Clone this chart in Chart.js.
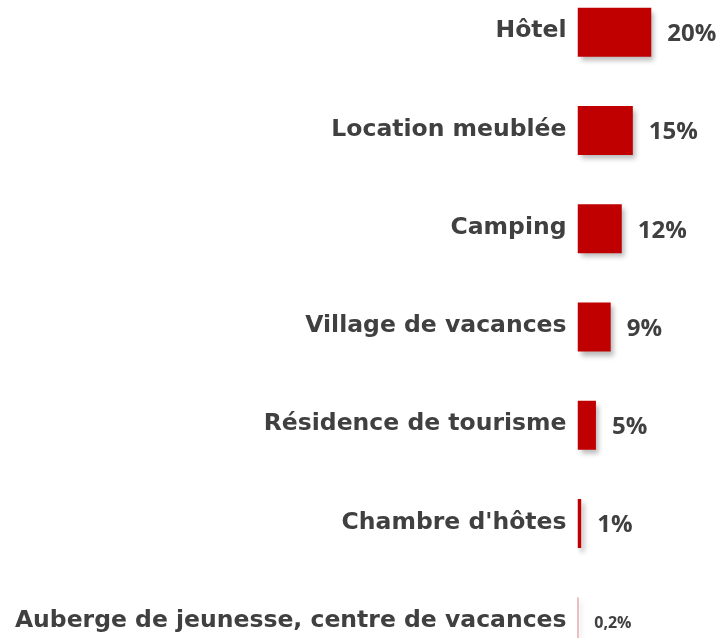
<!DOCTYPE html>
<html>
<head>
<meta charset="utf-8">
<script src="https://cdn.jsdelivr.net/npm/chart.js@4"></script>
<style>
  html, body { margin: 0; padding: 0; background: #fff; overflow: hidden; }
  #wrap { position: absolute; left: 0; top: -42px; width: 721px; height: 738px; }
</style>
</head>
<body>
<div id="wrap"><canvas id="hebChart"></canvas></div>
<script>
    // Hébergements (part en %)
    const categories = [
        'Hôtel',
        'Location meublée',
        'Camping',
        'Village de vacances',
        'Résidence de tourisme',
        "Chambre d'hôtes",
        'Auberge de jeunesse, centre de vacances'
    ];
    const values = [20, 15, 12, 9, 5, 1, 0.2];

    const fmt = v => String(v).replace('.', ',') + '%';

    // ombre portée sous les barres
    const shadowPlugin = {
        id: 'barShadow',
        beforeDatasetDraw(chart) {
            const ctx = chart.ctx;
            ctx.save();
            ctx.shadowColor = 'rgba(0,0,0,0.28)';
            ctx.shadowBlur = 5;
            ctx.shadowOffsetX = 3;
            ctx.shadowOffsetY = 4;
        },
        afterDatasetDraw(chart) {
            chart.ctx.restore();
        }
    };

    // pourcentages à droite des barres
    const valueLabels = {
        id: 'valueLabels',
        afterDatasetsDraw(chart) {
            const ctx = chart.ctx;
            const meta = chart.getDatasetMeta(0);
            ctx.save();
            ctx.fillStyle = '#404040';
            ctx.textBaseline = 'middle';
            ctx.textAlign = 'left';
            meta.data.forEach((bar, i) => {
                const v = values[i];
                ctx.font = v < 1 ? 'bold 16px "Open Sans"' : 'bold 24px "Open Sans"';
                ctx.fillText(fmt(v), bar.x + 16, bar.y + 2);
            });
            ctx.restore();
        }
    };

    new Chart(document.getElementById('hebChart'), {
        type: 'bar',
        data: {
            labels: categories,
            datasets: [{
                data: values,
                backgroundColor: '#C00000',
                borderWidth: 0,
                categoryPercentage: 1,
                barPercentage: 0.5
            }]
        },
        options: {
            indexAxis: 'y',
            responsive: true,
            maintainAspectRatio: false,
            animation: false,
            layout: { padding: 0 },
            plugins: {
                legend: { display: false },
                tooltip: { enabled: false }
            },
            scales: {
                x: {
                    display: false,
                    min: 0,
                    max: 38.9
                },
                y: {
                    afterFit(scale) { scale.width = 577.5; },
                    border: { display: false },
                    grid: { display: false, drawTicks: false },
                    ticks: {
                        padding: 11,
                        labelOffset: -1,
                        color: '#404040',
                        font: { family: 'DejaVu Sans', weight: 'bold', size: 23.5 }
                    }
                }
            }
        },
        plugins: [shadowPlugin, valueLabels]
    });
</script>
</body>
</html>
